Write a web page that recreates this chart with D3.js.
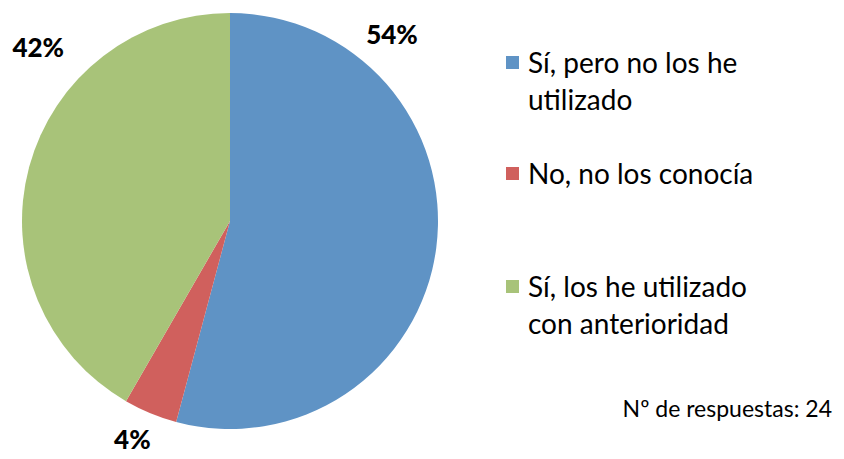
<!DOCTYPE html>
<html>
<head>
<meta charset="utf-8">
<script src="https://cdn.jsdelivr.net/npm/d3@7"></script>
<style>
  body { margin: 0; background: #fff; }
  text { font-family: Lato, "Open Sans", sans-serif; fill: #000; }
</style>
</head>
<body>
<script>
// data
var categories = ["Sí, pero no los he utilizado", "No, no los conocía", "Sí, los he utilizado con anterioridad"];
var legendLines = [["Sí, pero no los he", "utilizado"], ["No, no los conocía"], ["Sí, los he utilizado", "con anterioridad"]];
var counts = [13, 1, 10];
var pctLabels = ["54%", "4%", "42%"];
var colors = ["#5F93C5", "#D0605D", "#A8C379"];
var totalNote = "Nº de respuestas: 24";

var width = 844, height = 459;
var cx = 230, cy = 221, radius = 208;

var svg = d3.select("body").append("svg")
  .attr("width", width)
  .attr("height", height);

var pie = d3.pie().sort(null).value((d) => d);
var arc = d3.arc().innerRadius(0).outerRadius(radius);
var color = d3.scaleOrdinal().domain(d3.range(categories.length)).range(colors);

var g = svg.append("g").attr("transform", "translate(" + cx + "," + cy + ")");
var arcs = pie(counts);

g.selectAll(".slice")
  .data(arcs)
  .enter().append("path")
  .attr("class", "slice")
  .attr("d", arc)
  .style("fill", (d, i) => color(i));

// percent labels, placed outside like the original (angle in degrees from 12 o'clock)
var labelAngle = [41, 204, -48], labelDist = [247, 240, 258];
g.selectAll(".pct")
  .data(arcs)
  .enter().append("text")
  .attr("class", "pct")
  .attr("x", (d, i) => labelDist[i] * Math.sin(labelAngle[i] * Math.PI / 180))
  .attr("y", (d, i) => -labelDist[i] * Math.cos(labelAngle[i] * Math.PI / 180))
  .attr("dy", "0.35em")
  .style("text-anchor", "middle")
  .style("font-size", "26px")
  .style("font-weight", "900")
  .text((d, i) => pctLabels[i]);

// legend
var legendY = [63, 174, 287];
var legend = svg.selectAll(".legend")
  .data(categories)
  .enter().append("g")
  .attr("class", "legend")
  .attr("transform", (d, i) => "translate(506," + legendY[i] + ")");

legend.append("rect")
  .attr("x", 0)
  .attr("y", -7)
  .attr("width", 13)
  .attr("height", 13)
  .style("fill", (d, i) => color(i));

legend.append("text")
  .attr("x", 22)
  .attr("y", 0)
  .style("font-size", "28px")
  .selectAll("tspan")
  .data((d, i) => legendLines[i])
  .enter().append("tspan")
  .attr("x", 22)
  .attr("dy", (d, j) => j === 0 ? "0.35em" : "37px")
  .text((d) => d);

svg.append("text")
  .attr("x", 832)
  .attr("y", 409)
  .attr("dy", "0.35em")
  .style("text-anchor", "end")
  .style("font-size", "23px")
  .text(totalNote);
</script>
</body>
</html>
